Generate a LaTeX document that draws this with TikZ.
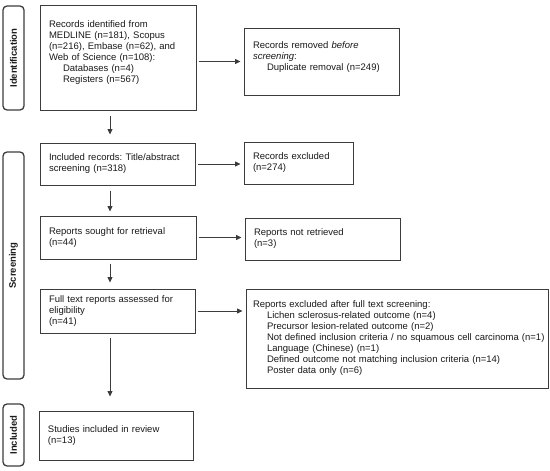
\documentclass[tikz,border=0pt]{standalone}
\usepackage{fontspec}
\setmainfont{Liberation Sans}
\usetikzlibrary{arrows.meta}
\definecolor{boxgray}{HTML}{3C3C3C}
\definecolor{txt}{HTML}{1A1A1A}
\frenchspacing
\begin{document}
\begin{tikzpicture}[x=1pt,y=-1pt,
  font=\fontsize{9.5}{11}\selectfont,
  box/.style={draw=boxgray, line width=1pt, align=left, inner xsep=9pt, inner ysep=0pt, text=txt, fill=white},
  phase/.style={draw=boxgray, line width=1.3pt, rounded corners=4pt, rotate=90, inner sep=0pt,
     minimum height=21pt, font=\fontsize{9.5}{11}\selectfont\bfseries, text=txt},
  arr/.style={draw=boxgray, line width=0.8pt, -{Triangle[length=5.5pt,width=5pt]}}]
\useasboundingbox (0,0) rectangle (550,471);
\newcommand{\ind}{\hspace*{14pt}}
% phase bars
\node[phase, minimum width=104pt] (pid) at (13.5,58) {Identification};
\node[phase, minimum width=227pt] (psc) at (13.5,265.5) {Screening};
\node[phase, minimum width=62pt] (pin) at (13.5,435) {Included};
% left column
\node[box, text width=138pt, minimum height=105pt] (b1) at (118,57.5)
  {Records identified from\\MEDLINE (n=181), Scopus\\(n=216), Embase (n=62), and\\Web of Science (n=108):\\\ind Databases (n=4)\\\ind Registers (n=567)\\\mbox{}};
\node[box, text width=137pt, minimum height=42pt] (b2) at (117.5,164)
  {Included records: Title/abstract\\screening (n=318)};
\node[box, text width=138pt, minimum height=43pt] (b3) at (118,237.5)
  {Reports sought for retrieval\\(n=44)};
\node[box, text width=137pt, minimum height=44pt] (b4) at (117.5,311)
  {Full text reports assessed for\\eligibility\\(n=41)};
\node[box, text width=136pt, minimum height=49pt] (b5) at (116,435.5)
  {Studies included in review\\(n=13)};
% right column
\node[box, text width=137pt, minimum height=67pt] (r1) at (321.5,61.5)
  {Records removed \textit{before}\\\textit{screening}:\\\ind Duplicate removal (n=249)\\\mbox{}};
\node[box, text width=91pt, minimum height=42pt] (r2) at (298.5,163)
  {Records excluded\\(n=274)};
\node[box, text width=137pt, minimum height=42pt] (r3) at (322.5,239)
  {Reports not retrieved\\(n=3)};
\node[box, inner xsep=7pt, text width=288pt, minimum height=99pt] (r4) at (397,338.5)
  {Reports excluded after full text screening:\\
   \ind Lichen sclerosus-related outcome (n=4)\\
   \ind Precursor lesion-related outcome (n=2)\\
   \ind\mbox{Not defined inclusion criteria / no squamous cell carcinoma (n=1)}\\
   \ind Language (Chinese) (n=1)\\
   \ind Defined outcome not matching inclusion criteria (n=14)\\
   \ind Poster data only (n=6)};
% connectors
\coordinate (ax) at (110,0);
\draw[arr, shorten <=5pt, shorten >=8pt] (b1.south -| ax) -- (b2.north -| ax);
\draw[arr, shorten <=5pt, shorten >=4pt] (b2.south -| ax) -- (b3.north -| ax);
\draw[arr, shorten <=4pt, shorten >=6pt] (b3.south -| ax) -- (b4.north -| ax);
\draw[arr, shorten <=4pt, shorten >=14pt] (b4.south -| ax) -- (b5.north -| ax);
\draw[arr, shorten <=2pt, shorten >=3pt] (b1.east |- r1.west) -- (r1.west);
\draw[arr, shorten <=2pt, shorten >=3pt] (b2.east) -- (b2.east -| r2.west);
\draw[arr, shorten <=2pt, shorten >=3pt] (b3.east) -- (b3.east -| r3.west);
\draw[arr, shorten <=2pt, shorten >=3pt] (b4.east) -- (b4.east -| r4.west);
\end{tikzpicture}
\end{document}
